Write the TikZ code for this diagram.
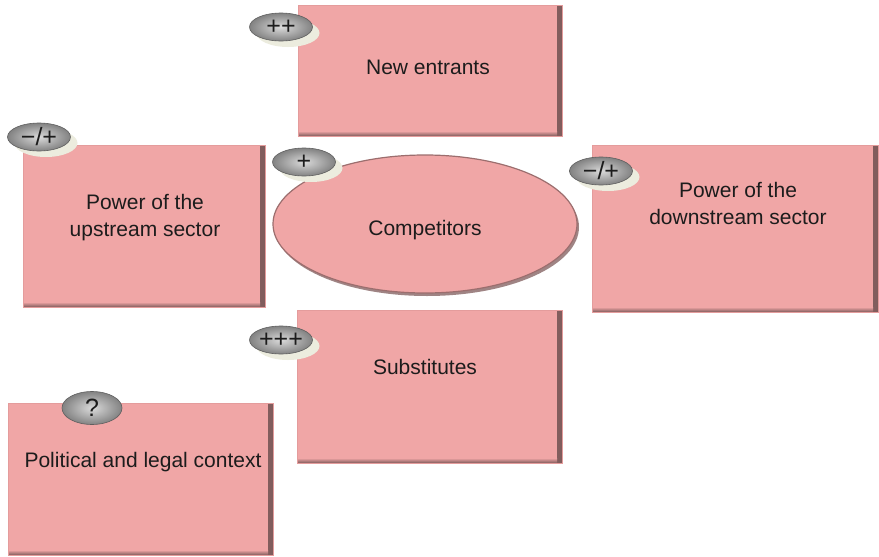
\documentclass[tikz,border=0pt]{standalone}
\usepackage{fontspec}
\setmainfont{Liberation Sans}
\usetikzlibrary{shapes.geometric,shadows}

\definecolor{boxfill}{RGB}{240,166,166}
\definecolor{boxedge}{RGB}{228,156,156}
\definecolor{bevel}{RGB}{128,92,92}
\definecolor{badgein}{RGB}{218,218,218}
\definecolor{badgeout}{RGB}{130,130,130}
\definecolor{badgeline}{RGB}{95,95,95}
\definecolor{cream}{RGB}{236,236,222}
\definecolor{ink}{RGB}{28,28,28}

\tikzset{
  forcebox/.style={rectangle, inner sep=0pt, fill=boxfill, draw=boxedge, line width=0.6pt,
    path picture={
      \shade[left color=boxfill, right color=bevel]
        ([xshift=-5pt]path picture bounding box.north east) rectangle (path picture bounding box.south east);
      \shade[top color=boxfill, bottom color=bevel]
        ([yshift=5pt]path picture bounding box.south west) rectangle ([xshift=-5pt]path picture bounding box.south east);
    }},
  rivals/.style={ellipse, inner sep=0pt, fill=boxfill, draw=bevel!75!boxfill, line width=1.2pt,
    drop shadow={shadow xshift=2pt, shadow yshift=-3pt, fill=bevel, opacity=0.75}},
  label/.style={text=ink, align=center, font=\fontsize{21}{27}\selectfont, inner sep=0pt},
  badge/.style={ellipse, inner sep=0pt, minimum width=63pt, minimum height=28pt,
    inner color=badgein, outer color=badgeout, draw=badgeline, line width=0.6pt,
    text=ink, font=\fontsize{25}{25}\selectfont},
  badgeshadow/.style={badge, drop shadow={shadow xshift=7pt, shadow yshift=-6pt, fill=cream, opacity=1}},
}

\begin{document}
\begin{tikzpicture}[x=1pt, y=-1pt]
  \useasboundingbox[fill=white] (0,0) rectangle (879,557);

  % the five force boxes
  \node[forcebox, minimum width=264pt, minimum height=131pt] (entrants)   at (430,70.5) {};
  \node[forcebox, minimum width=242pt, minimum height=162pt] (upstream)   at (144,226) {};
  \node[forcebox, minimum width=286pt, minimum height=167pt] (downstream) at (735,228.5) {};
  \node[forcebox, minimum width=265pt, minimum height=153pt] (subst)      at (429.5,386.5) {};
  \node[forcebox, minimum width=265pt, minimum height=152pt] (politics)   at (140.5,479) {};

  % central rivalry ellipse
  \node[rivals, minimum width=304pt, minimum height=138pt] (rivalry) at (425,224) {};

  % box texts
  \node[label] (tEntrants)   at (428,67)  {New entrants};
  \node[label] (tUpstream)   at (145,218) {Power of the\\upstream sector};
  \node[label] (tDownstream) at (738,203) {Power of the\\downstream sector};
  \node[label] (tRivalry)    at (425,230) {Competitors};
  \node[label] (tSubst)      at (425,367) {Substitutes};
  \node[label] (tPolitics)   at (143,462) {Political and legal context};

  % intensity badges
  \node[badgeshadow] (bEntrants)   at (281,27)  {++};
  \node[badgeshadow] (bUpstream)   at (39,137)  {−/+};
  \node[badgeshadow] (bRivalry)    at (304,162) {+};
  \node[badgeshadow] (bDownstream) at (601,171) {−/+};
  \node[badgeshadow] (bSubst)      at (281,340) {+++};
  \node[badge, minimum width=60pt, minimum height=33pt] (bPolitics) at (92,408) {?};
\end{tikzpicture}
\end{document}
